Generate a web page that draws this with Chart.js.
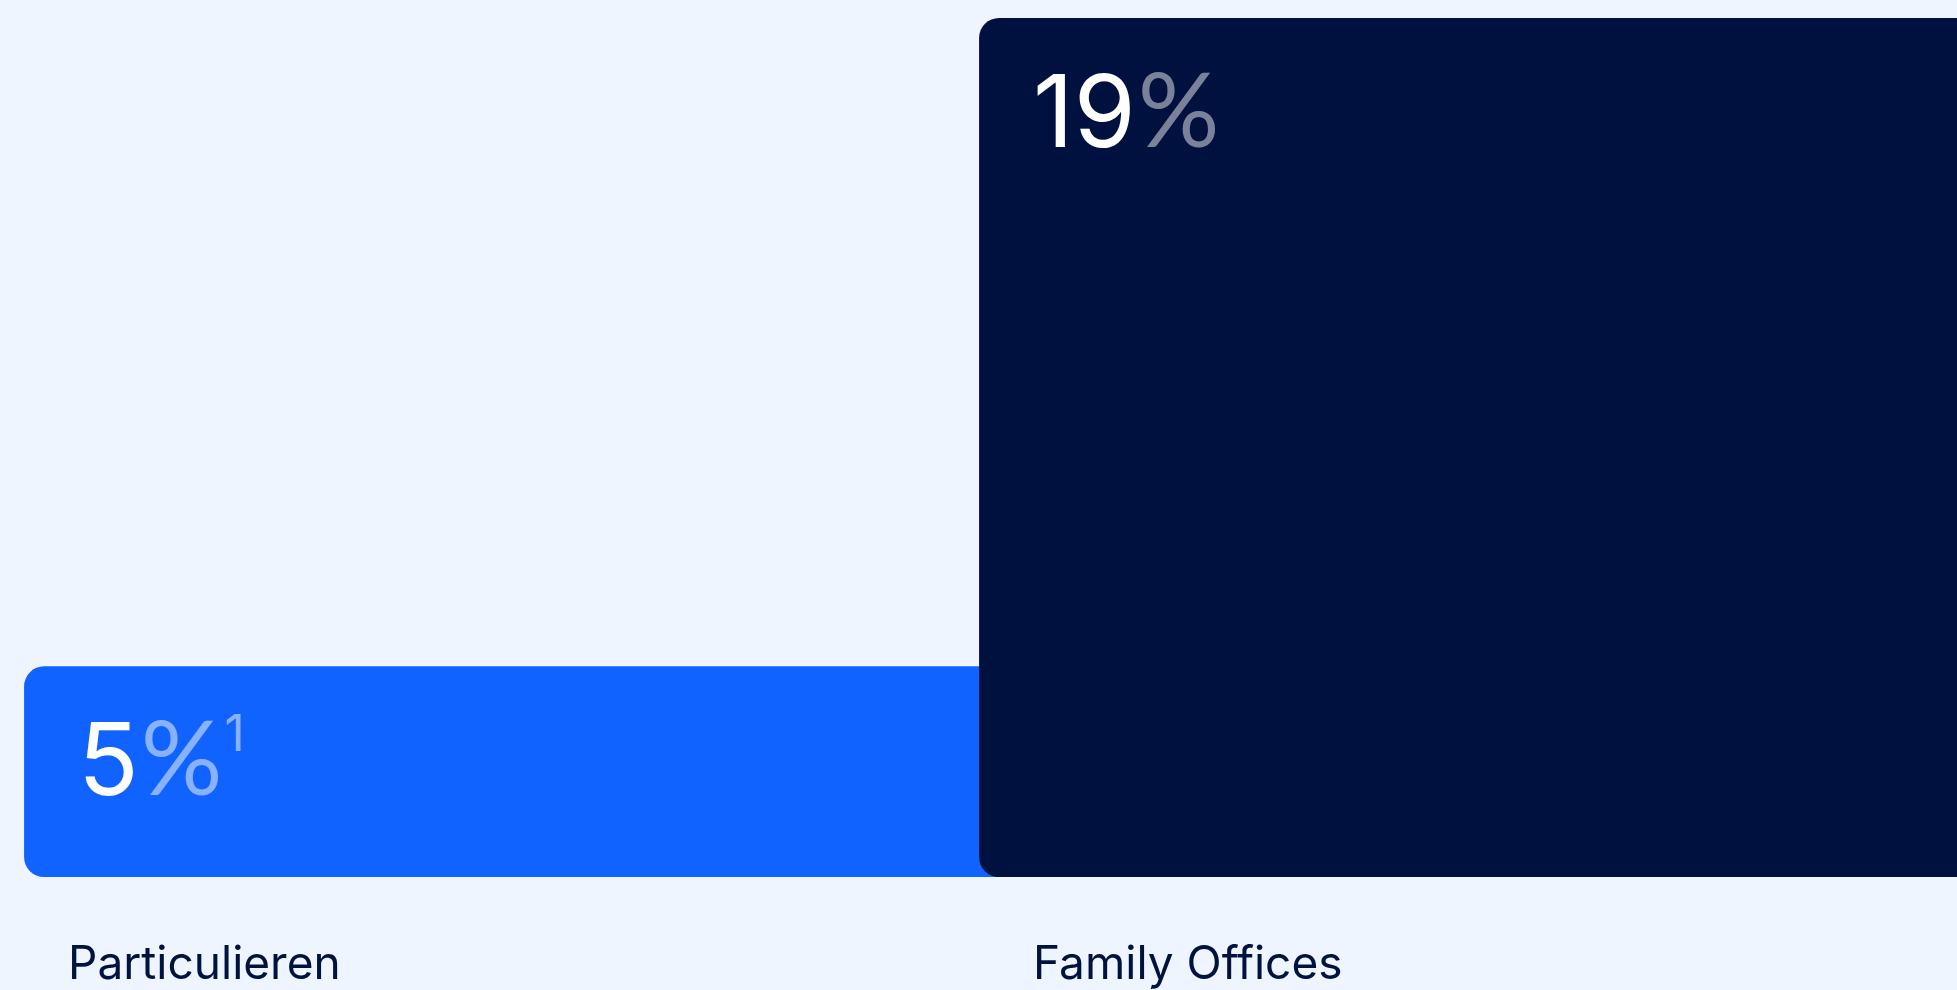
<!DOCTYPE html>
<html>
<head>
<meta charset="utf-8">
<script src="https://cdn.jsdelivr.net/npm/chart.js@4.4.1/dist/chart.umd.min.js"></script>
<style>
  html, body { margin: 0; padding: 0; background: #EEF5FF; overflow: hidden; }
  #wrap { width: 1957px; height: 990px; }
</style>
</head>
<body>
<div id="wrap"><canvas id="shareChart" width="1957" height="990"></canvas></div>
<script>
// chart data
const categories = ["Particulieren", "Family Offices"];
const shares = [5, 19];
const footnotes = ["1", ""];
const barColors = ["#1163FF", "#00103F"];
const dimText = ["rgba(255,255,255,0.5)", "rgba(255,255,255,0.48)"];

// where the labels sit inside / below each bar
const labelInset = [44, 54];
const axisFloor = 0.45;

const valueLabels = {
    id: "valueLabels",
    afterDatasetsDraw(chart) {
        const ctx = chart.ctx;
        const bars = chart.getDatasetMeta(0).data;
        ctx.save();
        bars.forEach((bar, i) => {
            const left = bar.x - bar.width / 2;
            let x = left + 54;
            const base = bar.y + 129;
            ctx.textBaseline = "alphabetic";
            ctx.textAlign = "left";
            ctx.font = "400 100px Inter";
            ctx.fillStyle = "#FFFFFF";
            const num = String(shares[i]);
            ctx.fillText(num, x, base);
            x += ctx.measureText(num).width + 2;
            ctx.fillStyle = dimText[i];
            ctx.font = "400 102px Lato";
            ctx.fillText("%", x, base);
            x += ctx.measureText("%").width + 2;
            if (footnotes[i]) {
                ctx.font = "400 50px Inter";
                ctx.fillText(footnotes[i], x, base - 44);
            }
        });
        ctx.restore();
    },
    afterDraw(chart) {
        const ctx = chart.ctx;
        const bars = chart.getDatasetMeta(0).data;
        ctx.save();
        ctx.font = "400 46px Inter";
        ctx.fillStyle = "#00123F";
        ctx.textBaseline = "alphabetic";
        bars.forEach((bar, i) => {
            const left = bar.x - bar.width / 2;
            ctx.fillText(categories[i], left + labelInset[i], chart.chartArea.bottom + 102);
        });
        ctx.restore();
    }
};

function draw() {
    const ctx = document.getElementById("shareChart").getContext("2d");
    new Chart(ctx, {
        type: "bar",
        data: {
            labels: categories,
            datasets: [{
                data: shares,
                base: axisFloor,
                backgroundColor: barColors,
                borderRadius: 20,
                borderSkipped: false,
                barPercentage: 1.048,
                categoryPercentage: 1,
                clip: false
            }]
        },
        options: {
            responsive: false,
            animation: false,
            events: [],
            layout: { padding: { left: 47, right: 0, top: 18, bottom: 113 } },
            scales: {
                x: { display: false, offset: true, grid: { display: false } },
                y: { display: false, min: axisFloor, max: 19, grid: { display: false } }
            },
            plugins: {
                legend: { display: false },
                tooltip: { enabled: false }
            }
        },
        plugins: [valueLabels]
    });
}

Promise.all([
    document.fonts.load("100px Inter"),
    document.fonts.load("102px Lato")
]).then(draw, draw);
</script>
</body>
</html>
